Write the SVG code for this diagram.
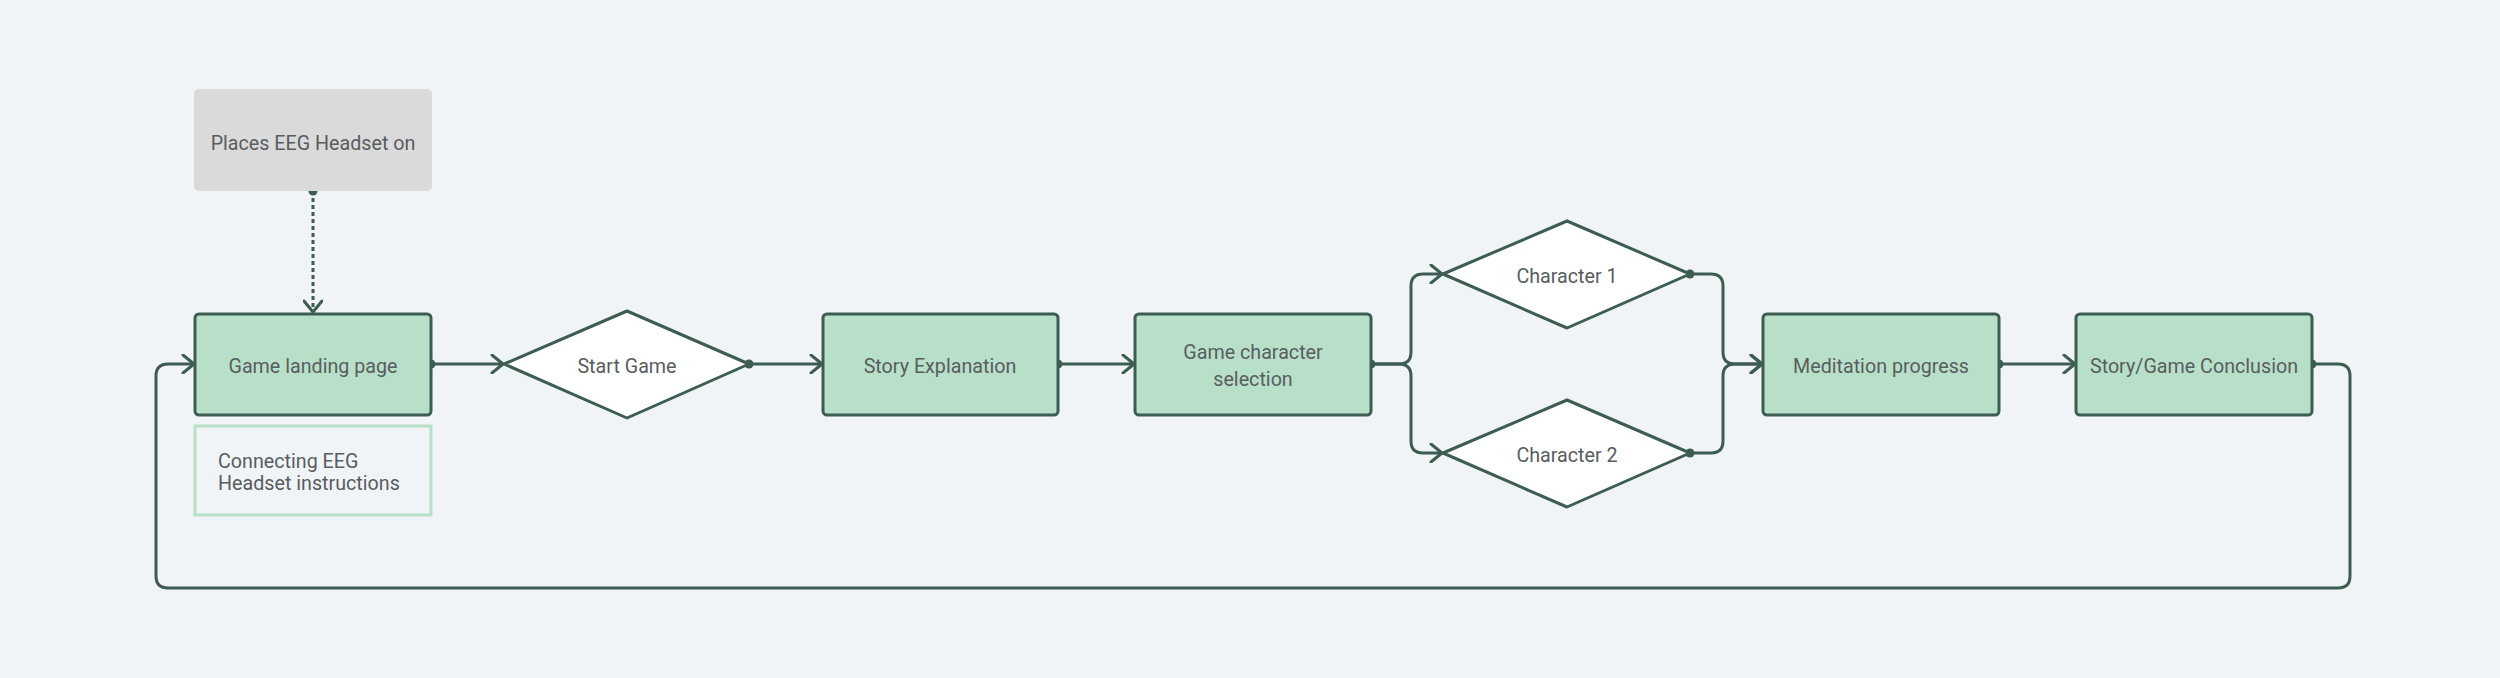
<svg xmlns="http://www.w3.org/2000/svg" width="2500" height="678" viewBox="0 0 2500 678">
<defs>
<style>
.bg{fill:#f0f4f7}
.node{fill:#b8e0c9;stroke:#3d5c52;stroke-width:3}
.dia{fill:#ffffff;stroke:#3d5c52;stroke-width:3;stroke-linejoin:round}
.gray{fill:#dadada}
.note{fill:none;stroke:#b8e0c9;stroke-width:3}
.t{font-family:Roboto,"Liberation Sans",sans-serif;font-size:19.7px;fill:#585d60;text-anchor:middle;dominant-baseline:central}
.tl{font-family:Roboto,"Liberation Sans",sans-serif;font-size:19.7px;fill:#585d60}
.c{fill:none;stroke:#3d5c52;stroke-width:3;stroke-linejoin:round}
.dot{fill:#3d5c52}
</style>
<marker id="arr" viewBox="0 0 14 20" refX="13" refY="10" markerWidth="14" markerHeight="20" markerUnits="userSpaceOnUse" orient="auto">
<path d="M2,1 L13,10 L2,19" fill="none" stroke="#3d5c52" stroke-width="3" stroke-linecap="round" stroke-linejoin="round"/>
</marker>
</defs>
<rect class="bg" x="0" y="0" width="2500" height="678"/>

<g id="connectors">
<path class="c" d="M313,191 L313,312" stroke-dasharray="4 3" marker-end="url(#arr)"/>
<circle class="dot" cx="313" cy="191" r="4.5"/>
<path class="c" d="M431,364 L503,364" marker-end="url(#arr)"/>
<circle class="dot" cx="431" cy="364" r="4.5"/>
<path class="c" d="M749,364 L822,364" marker-end="url(#arr)"/>
<circle class="dot" cx="749" cy="364" r="4.5"/>
<path class="c" d="M1058,364 L1134,364" marker-end="url(#arr)"/>
<circle class="dot" cx="1058" cy="364" r="4.5"/>
<path class="c" d="M1371,364 L1399,364 Q1411,364 1411,352 L1411,286 Q1411,274 1423,274 L1442,274" marker-end="url(#arr)"/>
<path class="c" d="M1371,364 L1399,364 Q1411,364 1411,376 L1411,441 Q1411,453 1423,453 L1442,453" marker-end="url(#arr)"/>
<circle class="dot" cx="1371" cy="364" r="4.5"/>
<path class="c" d="M1690,274 L1711,274 Q1723,274 1723,286 L1723,352 Q1723,364 1735,364 L1762,364" marker-end="url(#arr)"/>
<path class="c" d="M1690,453 L1711,453 Q1723,453 1723,441 L1723,376 Q1723,364 1735,364 L1762,364" marker-end="url(#arr)"/>
<circle class="dot" cx="1690" cy="274" r="4.5"/>
<circle class="dot" cx="1690" cy="453" r="4.5"/>
<path class="c" d="M1999,364 L2075,364" marker-end="url(#arr)"/>
<circle class="dot" cx="1999" cy="364" r="4.5"/>
<path class="c" d="M2312,364 L2338,364 Q2350,364 2350,376 L2350,576 Q2350,588 2338,588 L168,588 Q156,588 156,576 L156,376 Q156,364 168,364 L194,364" marker-end="url(#arr)"/>
<circle class="dot" cx="2312" cy="364" r="4.5"/>
</g>

<g id="n-headset">
<rect class="gray" x="194" y="89" width="238" height="102" rx="5"/>
<text class="t" x="313" y="143">Places EEG Headset on</text>
</g>
<g id="n-landing">
<rect class="node" x="195" y="314" width="236" height="101" rx="4"/>
<text class="t" x="313" y="366">Game landing page</text>
</g>
<g id="n-instructions">
<rect class="note" x="195" y="426" width="236" height="89"/>
<text class="tl" x="218" y="468">Connecting EEG</text>
<text class="tl" x="218" y="490">Headset instructions</text>
</g>
<g id="n-start">
<polygon class="dia" points="504,364 627,311 749,364 627,418"/>
<text class="t" x="627" y="366">Start Game</text>
</g>
<g id="n-story">
<rect class="node" x="823" y="314" width="235" height="101" rx="4"/>
<text class="t" x="940" y="366">Story Explanation</text>
</g>
<g id="n-selection">
<rect class="node" x="1135" y="314" width="236" height="101" rx="4"/>
<text class="t" x="1253" y="352">Game character</text>
<text class="t" x="1253" y="379">selection</text>
</g>
<g id="n-char1">
<polygon class="dia" points="1443,274 1567,221 1690,274 1567,328"/>
<text class="t" x="1567" y="276">Character 1</text>
</g>
<g id="n-char2">
<polygon class="dia" points="1443,453 1567,400 1690,453 1567,507"/>
<text class="t" x="1567" y="455">Character 2</text>
</g>
<g id="n-meditation">
<rect class="node" x="1763" y="314" width="236" height="101" rx="4"/>
<text class="t" x="1881" y="366">Meditation progress</text>
</g>
<g id="n-conclusion">
<rect class="node" x="2076" y="314" width="236" height="101" rx="4"/>
<text class="t" x="2194" y="366">Story/Game Conclusion</text>
</g>
</svg>
